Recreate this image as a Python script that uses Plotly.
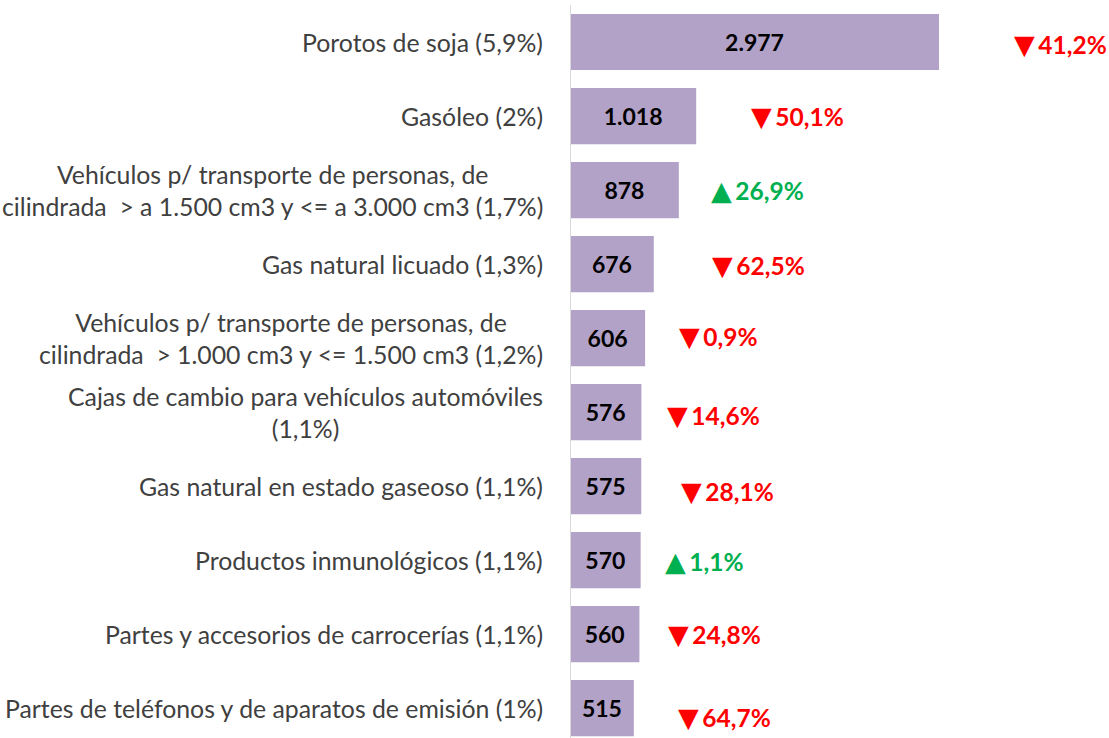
import plotly.graph_objects as go

# ---- data ----
categories = [
    "Porotos de soja (5,9%)",
    "Gasóleo (2%)",
    "Vehículos p/ transporte de personas, de<br>cilindrada\u00a0 &gt; a 1.500 cm3 y &lt;= a 3.000 cm3 (1,7%)",
    "Gas natural licuado (1,3%)",
    "Vehículos p/ transporte de personas, de<br>cilindrada\u00a0 &gt; 1.000 cm3 y &lt;= 1.500 cm3 (1,2%)",
    "Cajas de cambio para vehículos automóviles<br>(1,1%)",
    "Gas natural en estado gaseoso (1,1%)",
    "Productos inmunológicos (1,1%)",
    "Partes y accesorios de carrocerías (1,1%)",
    "Partes de teléfonos y de aparatos de emisión (1%)",
]
values = [2977, 1018, 878, 676, 606, 576, 575, 570, 560, 515]
changes = [-41.2, -50.1, 26.9, -62.5, -0.9, -14.6, -28.1, 1.1, -24.8, -64.7]

# ---- layout helpers (pixel offsets of the hand-placed change labels) ----
change_xshift = [75, 55, 32, 58, 34, 26, 40, 24, 29, 44]
change_yshift = [-2, 0, 0, -1, 2, -3, -5, -1, 0, -9]

FONT = "Lato"
BAR = "#B3A2C7"
RED = "#FF0000"
GREEN = "#00B050"

ids = list(range(len(categories)))

fig = go.Figure()
fig.add_trace(go.Bar(
    x=values, y=ids, orientation="h",
    marker=dict(color=BAR, line=dict(width=0)),
    width=0.76,
    text=values, texttemplate="%{x:,}",
    textposition="inside", insidetextanchor="middle",
    textfont=dict(family=FONT, size=23, color="black", weight="bold"),
    constraintext="none",
    hoverinfo="skip",
))

annotations = []
for i, cat in enumerate(categories):
    annotations.append(dict(
        x=0, xref="paper", y=i, yref="y", text=cat,
        xanchor="right", yanchor="middle", align="center",
        xshift=-25, showarrow=False,
        font=dict(family=FONT, size=24.8, color="#404040"),
    ))
for i, (v, c) in enumerate(zip(values, changes)):
    arrow = "▲" if c > 0 else "▼"
    color = GREEN if c > 0 else RED
    txt = (f"<span style='font-family:DejaVu Sans;font-size:27px'>{arrow}</span>"
           f"<span style='font-size:14px'> </span>"
           f"<b>{abs(c):.1f}%</b>".replace(".", ","))
    annotations.append(dict(
        x=v, xref="x", y=i, yref="y", text=txt,
        xanchor="left", yanchor="middle",
        xshift=change_xshift[i] - 2, yshift=change_yshift[i], showarrow=False,
        font=dict(family=FONT, size=24.5, color=color),
    ))

fig.update_layout(
    width=1109, height=738,
    margin=dict(l=570, r=0, t=5, b=0),
    paper_bgcolor="white", plot_bgcolor="white",
    separators=",.",
    showlegend=False,
    xaxis=dict(range=[0, 539 / 0.12395], showgrid=False, zeroline=False,
               showticklabels=False, showline=False),
    yaxis=dict(range=[9.405, -0.5], showgrid=False, zeroline=False,
               showticklabels=False, showline=False),
    shapes=[dict(type="line", xref="x", yref="paper", x0=0, x1=0, y0=0, y1=1,
                 line=dict(color="#D9D9D9", width=2))],
    annotations=annotations,
)

fig.write_html("out.html")
